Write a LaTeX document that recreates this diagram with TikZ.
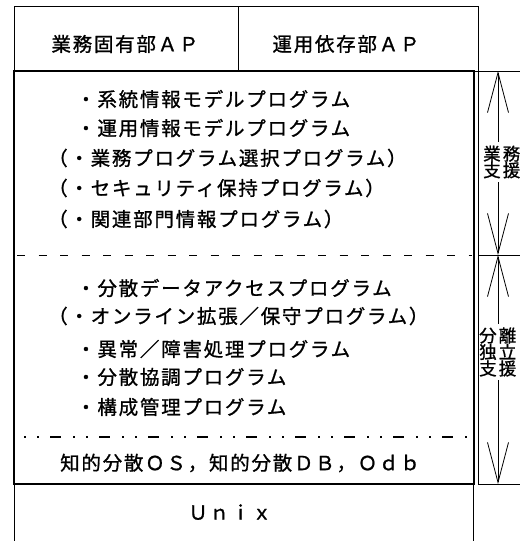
\documentclass[tikz,border=0pt]{standalone}
\usepackage{fontspec}
\setmainfont{Noto Sans CJK JP}[LetterSpace=9, FakeBold=1]
\newfontfamily\sidefont{Noto Sans CJK JP}[LetterSpace=12, FakeBold=1]
\usetikzlibrary{arrows.meta}
\begin{document}
\begin{tikzpicture}[x=1pt,y=-1pt,
  thinline/.style={line width=0.9pt},
  thickline/.style={line width=2.8pt},
  txt/.style={inner sep=0pt, font=\fontsize{19.5}{21}\selectfont},
  lefttxt/.style={txt, anchor=west},
  side/.style={inner sep=0pt, font=\sidefont\fontsize{17.5}{16.5}\selectfont, align=left, anchor=west},
  dimup/.style={line width=0.8pt, {Straight Barb[length=40pt,width=21pt]}-, shorten >=3pt},
]
\useasboundingbox (0,0) rectangle (520,541);
\clip (0,0) rectangle (520,541);

% top application box
\draw[thinline] (14,6) rectangle (478,71);
\draw[thinline] (238,6) -- (238,71);
\node[txt] (ap1) at (125,44) {業務固有部ＡＰ};
\node[txt] (ap2) at (346,44) {運用依存部ＡＰ};

% right column
\draw[thinline] (478,71) -- (478,484);
\draw[thinline] (478,71) -- (520,71);
\draw[thinline] (478,255) -- (520,255);
\draw[thinline] (478,484) -- (520,484);

% unix box sides
\draw[thinline] (14,484) -- (14,541);
\draw[thinline] (473,484) -- (473,541);
\node[txt] (unix) at (230,512) {Ｕｎｉｘ};

% separators
\draw[line width=0.9pt, dash pattern=on 8pt off 13.5pt] (17,255) -- (472,255);
\draw[line width=1.1pt, dash pattern=on 2pt off 11pt on 2pt off 11pt on 11pt off 12pt] (24,437) -- (472,437);

% main thick box
\draw[thickline] (14,71) rectangle (474,484);

% section 1
\node[lefttxt] (s1) at (76,99) {・系統情報モデルプログラム};
\node[lefttxt] (s2) at (76,128) {・運用情報モデルプログラム};
\node[lefttxt] (s3) at (48,158) {（・業務プログラム選択プログラム）};
\node[lefttxt] (s4) at (48,188) {（・セキュリティ保持プログラム）};
\node[lefttxt] (s5) at (48,219) {（・関連部門情報プログラム）};

% section 2
\node[lefttxt] (t1) at (76,288) {・分散データアクセスプログラム};
\node[lefttxt] (t2) at (48,316) {（・オンライン拡張／保守プログラム）};
\node[lefttxt] (t3) at (76,349) {・異常／障害処理プログラム};
\node[lefttxt] (t4) at (76,377) {・分散協調プログラム};
\node[lefttxt] (t5) at (76,407) {・構成管理プログラム};

\node[txt] (os) at (240,463) {知的分散ＯＳ，知的分散ＤＢ，Ｏｄｂ};

% dimension arrows
\coordinate (a1) at (498,71);
\coordinate (a2) at (498,255);
\coordinate (a3) at (498,484);
\node[side] (l1) at (483,162) {業務\\支援};
\node[side] (l2) at (479,352) {分離\\独立\\支援};
\draw[dimup] (a1) -- (a1 |- l1.north);
\draw[dimup] (a2) -- (a2 |- l1.south);
\draw[dimup] (a2) -- (a2 |- l2.north);
\draw[dimup] (a3) -- (a3 |- l2.south);
\end{tikzpicture}
\end{document}
